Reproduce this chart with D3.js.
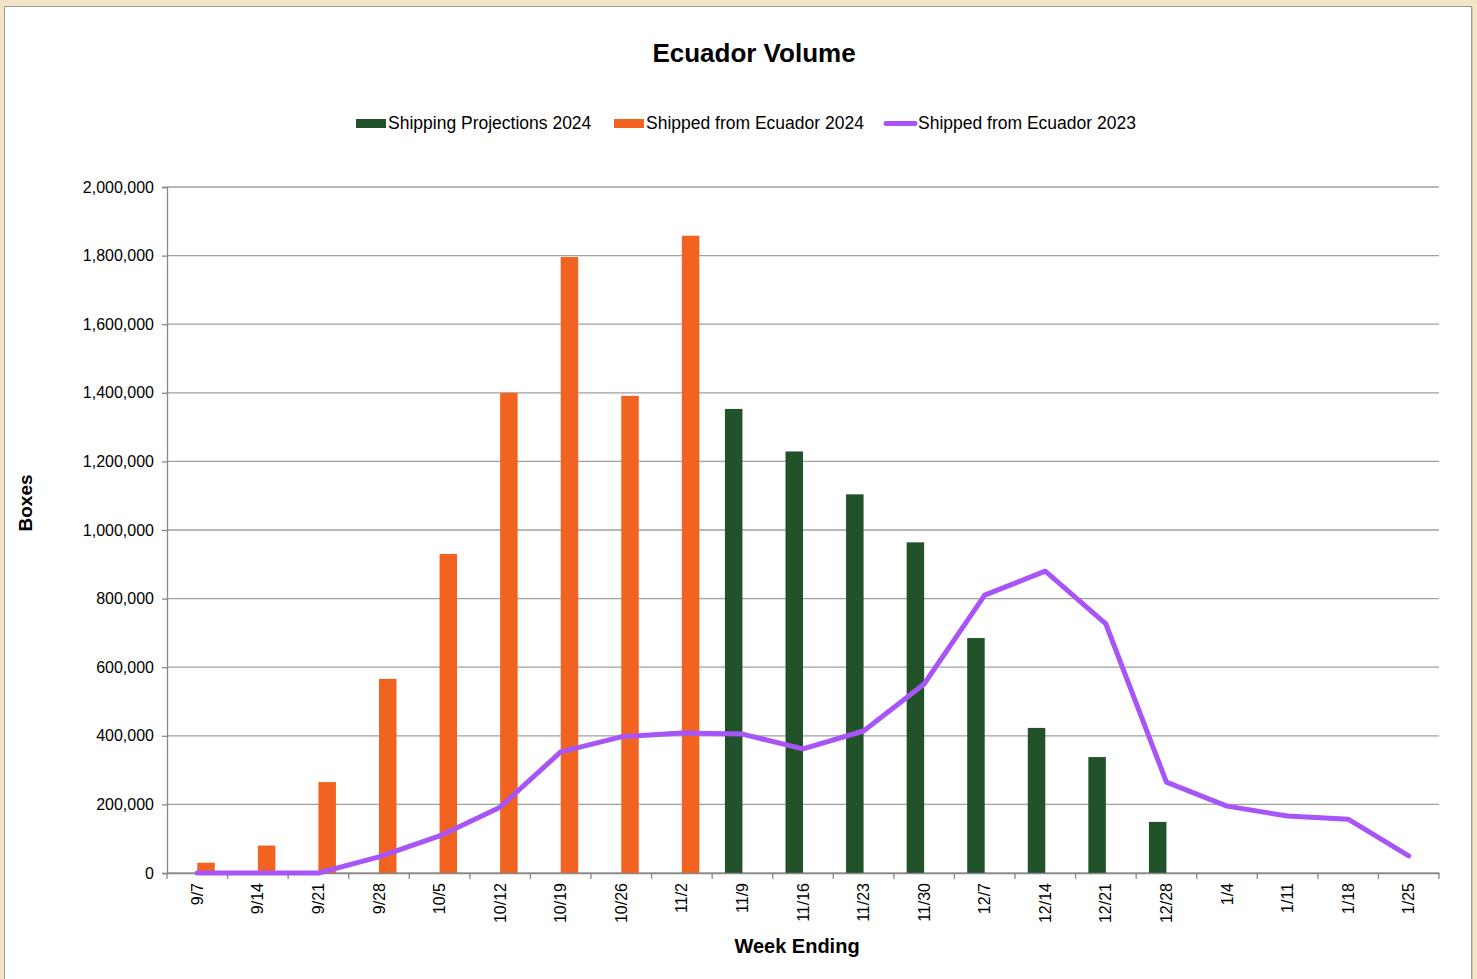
<!DOCTYPE html>
<html><head><meta charset="utf-8">
<script src="https://cdn.jsdelivr.net/npm/d3@7"></script>
<style>
html,body{margin:0;padding:0;background:#F3E3C7;}
svg{display:block;font-family:"Liberation Sans",Arial,Helvetica,sans-serif;}
</style></head>
<body>
<svg id="c" width="1477" height="979"></svg>
<script>
const weeks = ["9/7","9/14","9/21","9/28","10/5","10/12","10/19","10/26","11/2","11/9","11/16","11/23","11/30","12/7","12/14","12/21","12/28","1/4","1/11","1/18","1/25"];
const projections2024 = [null,null,null,null,null,null,null,null,null,1353000,1229000,1104000,964000,685000,423000,338000,149000,null,null,null,null];
const shipped2024 = [30000,80000,265000,566000,930000,1400000,1796000,1391000,1858000,null,null,null,null,null,null,null,null,null,null,null,null];
const shipped2023 = [0,0,0,47000,108000,192000,353000,397000,408000,405000,362000,414000,551000,810000,880000,726000,265000,195000,166000,157000,50000];
const yTicks = [0,200000,400000,600000,800000,1000000,1200000,1400000,1600000,1800000,2000000];
const seriesNames = ["Shipping Projections 2024","Shipped from Ecuador 2024","Shipped from Ecuador 2023"];
const colors = {proj:"#22522A", ship:"#F26322", line:"#A855F7"};

const svg = d3.select("#c");
// panel
svg.append("rect").attr("x",5.5).attr("y",7).attr("width",1467).attr("height",990)
  .attr("fill","#B8B0A8");
svg.append("rect").attr("x",4.5).attr("y",6.5).attr("width",1467).attr("height",990)
  .attr("fill","#fff").attr("stroke","#9a9a9a").attr("stroke-width",1);

const L=167, R=1439, T=187, B=873;
const x = d3.scaleBand().domain(weeks).range([L,R]).paddingInner(0).paddingOuter(0);
const y = d3.scaleLinear().domain([0,2000000]).range([B,T]);
const bw = 17.5;

// gridlines
svg.append("g").selectAll("line").data(yTicks).join("line")
  .attr("x1",L).attr("x2",R).attr("y1",d=>y(d)).attr("y2",d=>y(d))
  .attr("stroke","#A0A0A0").attr("stroke-width",1.3);

// y axis
const yAxis = d3.axisLeft(y).tickValues(yTicks).tickFormat(d3.format(",")).tickSize(5).tickPadding(8);
const gy = svg.append("g").attr("transform",`translate(${L},0)`).call(yAxis);
gy.select(".domain").attr("stroke","#888").attr("stroke-width",1.3);
gy.selectAll(".tick line").attr("stroke","#888").attr("stroke-width",1.3);
gy.selectAll("text").attr("font-size",16).attr("fill","#000").attr("font-family","Liberation Sans, Arial, sans-serif");

// bars
const bars = svg.append("g");
bars.selectAll("rect.p").data(weeks.map((w,i)=>({w,v:projections2024[i]})).filter(d=>d.v!=null)).join("rect")
  .attr("x",d=>x(d.w)+x.bandwidth()/2-bw).attr("width",bw)
  .attr("y",d=>y(d.v)).attr("height",d=>B-y(d.v)).attr("fill",colors.proj);
bars.selectAll("rect.s").data(weeks.map((w,i)=>({w,v:shipped2024[i]})).filter(d=>d.v!=null)).join("rect")
  .attr("x",d=>x(d.w)+x.bandwidth()/2).attr("width",bw)
  .attr("y",d=>y(d.v)).attr("height",d=>B-y(d.v)).attr("fill",colors.ship);

// x axis
const xAxis = d3.axisBottom(x).tickSize(0).tickPadding(0);
const gx = svg.append("g").attr("transform",`translate(0,${B})`).call(xAxis);
gx.select(".domain").attr("stroke","#888").attr("stroke-width",1.3);
gx.selectAll(".tick text").attr("font-size",16).attr("fill","#000")
  .attr("font-family","Liberation Sans, Arial, sans-serif")
  .attr("text-anchor","end").attr("dy","0.35em")
  .attr("transform","translate(0,10) rotate(-90)").attr("x",0).attr("y",0);
// band-boundary ticks
svg.append("g").selectAll("line").data(weeks.concat(["_end"])).join("line")
  .attr("x1",(d,i)=>L+i*x.step()).attr("x2",(d,i)=>L+i*x.step())
  .attr("y1",B).attr("y2",B+6).attr("stroke","#888").attr("stroke-width",1.3);

// line 2023
const line = d3.line().x((d,i)=>x(weeks[i])+x.bandwidth()/2).y(d=>y(d));
svg.append("path").datum(shipped2023).attr("d",line).attr("fill","none")
  .attr("stroke",colors.line).attr("stroke-width",5).attr("stroke-linejoin","round").attr("stroke-linecap","round");

// title
svg.append("text").attr("x",754).attr("y",62).attr("text-anchor","middle")
  .attr("font-size",26).attr("font-weight","bold").text("Ecuador Volume");
// axis titles
svg.append("text").attr("x",797).attr("y",953).attr("text-anchor","middle")
  .attr("font-size",20).attr("font-weight","bold").text("Week Ending");
svg.append("text").attr("transform","translate(32,503) rotate(-90)").attr("text-anchor","middle")
  .attr("font-size",19).attr("font-weight","bold").text("Boxes");

// legend
const leg = svg.append("g").attr("font-size",17.5);
const lx = [356,614,884];
leg.append("rect").attr("x",lx[0]).attr("y",119).attr("width",30).attr("height",9).attr("fill",colors.proj);
leg.append("rect").attr("x",lx[1]).attr("y",119).attr("width",30).attr("height",9).attr("fill",colors.ship);
leg.append("line").attr("x1",lx[2]+2).attr("x2",lx[2]+31).attr("y1",123.5).attr("y2",123.5)
  .attr("stroke",colors.line).attr("stroke-width",5).attr("stroke-linecap","round");
seriesNames.forEach((n,i)=>{
  leg.append("text").attr("x",lx[i]+32+(i===2?2:0)).attr("y",129).text(n);
});
</script>
</body></html>
